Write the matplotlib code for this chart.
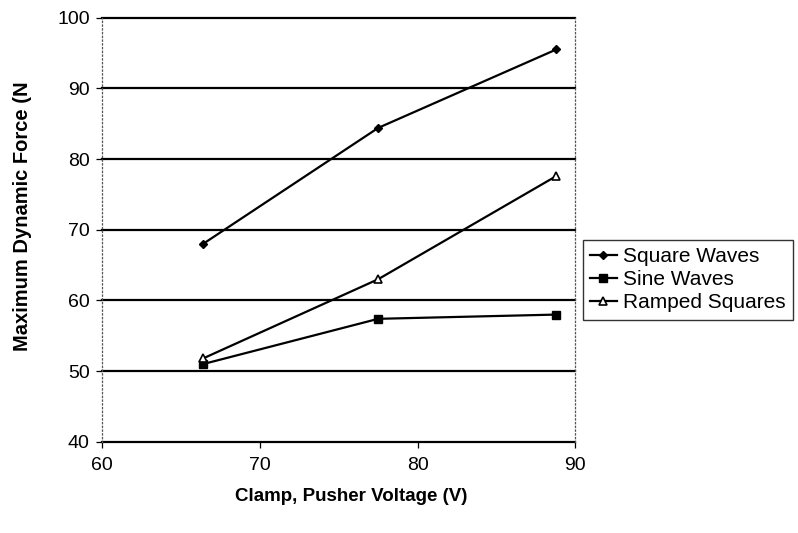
import matplotlib
matplotlib.use("Agg")
import matplotlib.pyplot as plt

plt.rcParams['font.family'] = ['Liberation Sans', 'DejaVu Sans']

# data
voltage = [66.4, 77.5, 88.8]
square_waves = [68.0, 84.4, 95.5]
sine_waves = [51.0, 57.4, 58.0]
ramped_squares = [51.8, 63.0, 77.6]

series_names = ['Square Waves', 'Sine Waves', 'Ramped Squares']
x_ticks = [60, 70, 80, 90]
y_ticks = [40, 50, 60, 70, 80, 90, 100]

fig = plt.figure(figsize=(7.98, 5.33), dpi=100)
ax = fig.add_axes([0.128, 0.171, 0.593, 0.796])

ax.plot(voltage, square_waves, color='black', lw=1.6, marker='D', ms=4.5,
        mfc='black', label=series_names[0])
ax.plot(voltage, sine_waves, color='black', lw=1.6, marker='s', ms=5.5,
        mfc='black', label=series_names[1])
ax.plot(voltage, ramped_squares, color='black', lw=1.6, marker='^', ms=5.5,
        mfc='white', mew=1.2, label=series_names[2])

ax.set_xlim(60, 90)
ax.set_ylim(40, 100)
ax.set_xticks(x_ticks)
ax.set_yticks(y_ticks)

# horizontal gridlines solid black
for y in y_ticks:
    ax.axhline(y, color='black', lw=1.6, zorder=1, clip_on=False)

for side in ['left', 'right']:
    ax.spines[side].set_linestyle((0, (1, 2)))
    ax.spines[side].set_color('#555555')
    ax.spines[side].set_linewidth(0.9)
ax.spines['top'].set_visible(False)
ax.spines['bottom'].set_visible(False)

ax.tick_params(axis='both', labelsize=14, direction='out', length=4,
               width=0.9, color='black')
ax.tick_params(axis='x', pad=7)
ax.tick_params(axis='y', pad=5)

fig.text(0.44, 0.068, 'Clamp, Pusher Voltage (V)', fontsize=13.5,
         fontweight='bold', ha='center', va='center')
fig.text(0.028, 0.595, 'Maximum Dynamic Force (N', fontsize=14.5,
         fontweight='bold', ha='center', va='center', rotation=90)

leg = ax.legend(loc='upper left', bbox_to_anchor=(0.73, 0.55),
                bbox_transform=fig.transFigure, fontsize=15, frameon=True,
                fancybox=False, edgecolor='black', handlelength=1.3,
                handletextpad=0.3, borderpad=0.35, labelspacing=0.2,
                borderaxespad=0)
leg.get_frame().set_linewidth(1.0)

fig.savefig('out.png', dpi=100)
